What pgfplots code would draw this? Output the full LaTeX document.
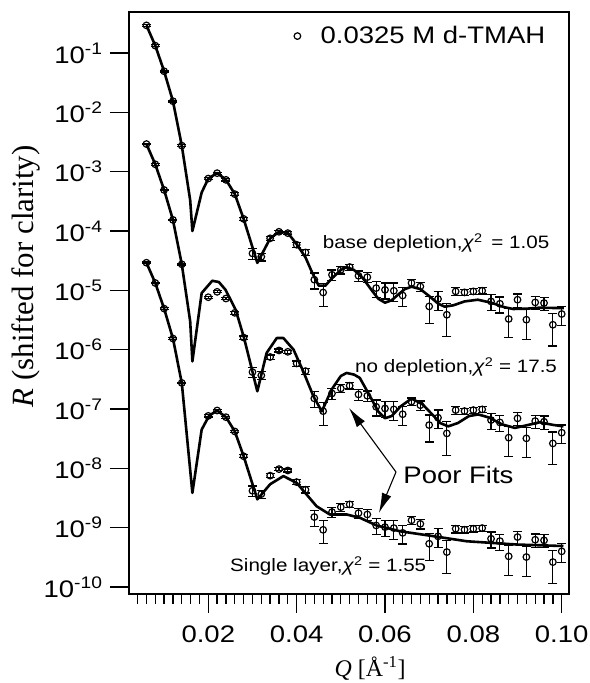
\documentclass[border=0pt]{standalone}
\usepackage{pgfplots}
\pgfplotsset{compat=1.18}
\usepackage{pgfplotstable}
\usepackage{fontspec}
\setmainfont{Liberation Sans}[FakeStretch=1.15]
\newfontfamily\tnr{Liberation Serif}
\usetikzlibrary{arrows.meta}

% data: base depletion (as measured)
\pgfplotstableread{
q r e
0.006 0.292 0.03
0.008 0.133 0.03
0.010 0.0492 0.03
0.012 0.0154 0.03
0.014 0.00275 0.03
0.020 7.66e-4 0.04
0.022 9.44e-4 0.04
0.024 7.28e-4 0.04
0.026 4.18e-4 0.05
0.028 1.60e-4 0.06
0.030 4.19e-5 0.2
0.032 3.68e-5 0.15
0.034 7.53e-5 0.08
0.036 9.7e-5 0.06
0.038 9.2e-5 0.06
0.040 5.86e-5 0.1
0.042 4.35e-5 0.12
0.044 1.51e-5 0.3
0.046 9.2e-6 0.42
0.048 1.83e-5 0.2
0.050 2.22e-5 0.15
0.052 2.47e-5 0.12
0.054 1.76e-5 0.2
0.056 1.67e-5 0.2
0.058 1.09e-5 0.3
0.060 1.02e-5 0.3
0.062 9.84e-6 0.35
0.064 8.17e-6 0.35
0.066 1.33e-5 0.15
0.068 1.16e-5 0.18
0.070 5.36e-6 0.48
0.072 7.14e-6 0.35
0.074 3.88e-6 0.57
0.076 9.59e-6 0.15
0.078 9.23e-6 0.12
0.080 9.59e-6 0.12
0.082 9.84e-6 0.12
0.084 6.51e-6 0.3
0.086 5.94e-6 0.3
0.088 3.29e-6 0.52
0.090 6.95e-6 0.25
0.092 3.2e-6 0.53
0.094 6.26e-6 0.25
0.096 6.11e-6 0.25
0.098 2.63e-6 0.56
0.100 3.99e-6 0.35
}\topdata

\pgfplotstableread{
q r e
0.006 0.00292 0.03
0.008 0.00133 0.03
0.010 4.92e-4 0.03
0.012 1.54e-4 0.03
0.014 2.75e-5 0.03
0.020 7.66e-6 0.04
0.022 9.44e-6 0.04
0.024 7.28e-6 0.04
0.026 4.18e-6 0.05
0.028 1.60e-6 0.06
0.030 4.19e-7 0.2
0.032 3.68e-7 0.15
0.034 7.53e-7 0.08
0.036 9.7e-7 0.06
0.038 9.2e-7 0.06
0.040 5.86e-7 0.1
0.042 4.35e-7 0.12
0.044 1.51e-7 0.3
0.046 9.2e-8 0.42
0.048 1.83e-7 0.2
0.050 2.22e-7 0.15
0.052 2.47e-7 0.12
0.054 1.76e-7 0.2
0.056 1.67e-7 0.2
0.058 1.09e-7 0.3
0.060 1.02e-7 0.3
0.062 9.84e-8 0.35
0.064 8.17e-8 0.35
0.066 1.33e-7 0.15
0.068 1.16e-7 0.18
0.070 5.36e-8 0.48
0.072 7.14e-8 0.35
0.074 3.88e-8 0.57
0.076 9.59e-8 0.15
0.078 9.23e-8 0.12
0.080 9.59e-8 0.12
0.082 9.84e-8 0.12
0.084 6.51e-8 0.3
0.086 5.94e-8 0.3
0.088 3.29e-8 0.52
0.090 6.95e-8 0.25
0.092 3.2e-8 0.53
0.094 6.26e-8 0.25
0.096 6.11e-8 0.25
0.098 2.63e-8 0.56
0.100 3.99e-8 0.35
}\middata

\pgfplotstableread{
q r e
0.006 2.92e-5 0.03
0.008 1.33e-5 0.03
0.010 4.92e-6 0.03
0.012 1.54e-6 0.03
0.014 2.75e-7 0.03
0.020 7.66e-8 0.04
0.022 9.44e-8 0.04
0.024 7.28e-8 0.04
0.026 4.18e-8 0.05
0.028 1.60e-8 0.06
0.030 4.19e-9 0.2
0.032 3.68e-9 0.15
0.034 7.53e-9 0.08
0.036 9.7e-9 0.06
0.038 9.2e-9 0.06
0.040 5.86e-9 0.1
0.042 4.35e-9 0.12
0.044 1.51e-9 0.3
0.046 9.2e-10 0.42
0.048 1.83e-9 0.2
0.050 2.22e-9 0.15
0.052 2.47e-9 0.12
0.054 1.76e-9 0.2
0.056 1.67e-9 0.2
0.058 1.09e-9 0.3
0.060 1.02e-9 0.3
0.062 9.84e-10 0.35
0.064 8.17e-10 0.35
0.066 1.33e-9 0.15
0.068 1.16e-9 0.18
0.070 5.36e-10 0.48
0.072 7.14e-10 0.35
0.074 3.88e-10 0.57
0.076 9.59e-10 0.15
0.078 9.23e-10 0.12
0.080 9.59e-10 0.12
0.082 9.84e-10 0.12
0.084 6.51e-10 0.3
0.086 5.94e-10 0.3
0.088 3.29e-10 0.52
0.090 6.95e-10 0.25
0.092 3.2e-10 0.53
0.094 6.26e-10 0.25
0.096 6.11e-10 0.25
0.098 2.63e-10 0.56
0.100 3.99e-10 0.35
}\botdata

% fits
\pgfplotstableread{
q r
0.006 0.292
0.008 0.133
0.010 0.0492
0.012 0.0154
0.014 0.00275
0.0159 3.3e-4
0.0164 1.0e-4
0.0185 4.45e-4
0.020 7.66e-4
0.022 9.5e-4
0.024 7.3e-4
0.026 4.2e-4
0.028 1.6e-4
0.0311 2.9e-5
0.034 7.5e-5
0.036 9.7e-5
0.038 9.3e-5
0.040 6.0e-5
0.042 3.6e-5
0.0435 2.0e-5
0.045 1.2e-5
0.0465 1.2e-5
0.048 1.6e-5
0.050 2.2e-5
0.0513 2.47e-5
0.053 2.2e-5
0.055 1.6e-5
0.057 1.0e-5
0.0585 7.2e-6
0.060 6.2e-6
0.0615 6.8e-6
0.063 8.5e-6
0.0645 1.05e-5
0.066 1.15e-5
0.068 1.05e-5
0.070 8.0e-6
0.072 6.0e-6
0.0735 5.3e-6
0.0755 5.6e-6
0.078 6.5e-6
0.081 6.95e-6
0.084 6.2e-6
0.087 5.2e-6
0.089 4.85e-6
0.092 4.9e-6
0.095 5.1e-6
0.1005 5.0e-6
}\topfit

\pgfplotstableread{
q r
0.006 2.92e-3
0.008 1.33e-3
0.010 4.92e-4
0.012 1.54e-4
0.014 2.75e-5
0.0159 3.0e-6
0.0164 6.35e-7
0.0185 9.0e-6
0.0209 1.45e-5
0.0224 1.38e-5
0.0239 1.02e-5
0.0262 4.7e-6
0.0281 1.57e-6
0.0311 1.99e-7
0.0332 8.8e-7
0.0355 1.57e-6
0.037 1.57e-6
0.0393 1.0e-6
0.0415 4.3e-7
0.0438 1.64e-7
0.0457 9.1e-8
0.0479 2.12e-7
0.0500 3.6e-7
0.0513 4.05e-7
0.0530 3.8e-7
0.0543 3.34e-7
0.0566 1.64e-7
0.0585 9.0e-8
0.0600 7.0e-8
0.0615 7.6e-8
0.0635 1.1e-7
0.066 1.5e-7
0.0685 1.2e-7
0.0709 7.8e-8
0.0725 5.8e-8
0.0743 5.1e-8
0.0765 5.8e-8
0.0790 7.6e-8
0.0811 8.1e-8
0.0835 7.2e-8
0.0865 5.5e-8
0.0894 4.8e-8
0.092 5.3e-8
0.095 5.97e-8
0.098 5.4e-8
0.1004 5.1e-8
}\midfit

\pgfplotstableread{
q r
0.006 2.92e-5
0.008 1.33e-5
0.010 4.92e-6
0.012 1.54e-6
0.014 2.75e-7
0.0164 3.86e-9
0.0185 4.5e-8
0.0202 7.74e-8
0.022 9.4e-8
0.024 7.3e-8
0.026 4.2e-8
0.028 1.6e-8
0.0311 3.0e-9
0.034 5.4e-9
0.037 7.4e-9
0.040 5.7e-9
0.0445 2.3e-9
0.0475 1.67e-9
0.0513 1.67e-9
0.0543 1.47e-9
0.0581 1.09e-9
0.0634 8.7e-10
0.0709 7.2e-10
0.0785 5.9e-10
0.0898 5.2e-10
0.1004 4.9e-10
}\botfit

\pgfplotsset{
  datastyle/.style={only marks, mark=o, mark size=3.3bp, black, line width=1.2bp,
    mark options={line width=1.2bp, fill=none},
    error bars/.cd, y dir=both, y explicit relative,
    error bar style={line width=1.2bp, black},
    error mark=-,
    error mark options={rotate=90, mark size=4.5bp, line width=1.2bp, black}},
  fitstyle/.style={black, line width=2.6bp, line join=round, no marks},
}

\begin{document}
\begin{tikzpicture}
\begin{axis}[
  name=ax,
  scale only axis,
  width=440bp, height=582bp,
  ymode=log,
  xmin=0.00205, xmax=0.10165,
  ymin=7.62e-11, ymax=0.491,
  axis line style={line width=1.5bp},
  tick style={line width=1.3bp, black},
  tick align=outside,
  xtick pos=bottom, ytick pos=left,
  major tick length=19bp, minor tick length=10bp,
  xtick={0.02,0.04,0.06,0.08,0.10},
  xticklabels={0.02,0.04,0.06,0.08,0.10},
  minor xtick={0.004,0.006,0.008,0.010,0.012,0.014,0.016,0.018,0.022,0.024,0.026,0.028,0.030,0.032,0.034,0.036,0.038,0.042,0.044,0.046,0.048,0.050,0.052,0.054,0.056,0.058,0.062,0.064,0.066,0.068,0.070,0.072,0.074,0.076,0.078,0.082,0.084,0.086,0.088,0.090,0.092,0.094,0.096,0.098},
  ytick={1e-10,1e-9,1e-8,1e-7,1e-6,1e-5,1e-4,1e-3,1e-2,1e-1},
  yticklabels={10\textsuperscript{-10},10\textsuperscript{-9},10\textsuperscript{-8},10\textsuperscript{-7},10\textsuperscript{-6},10\textsuperscript{-5},10\textsuperscript{-4},10\textsuperscript{-3},10\textsuperscript{-2},10\textsuperscript{-1}},
  yminorticks=false,
  tick label style={font=\fontsize{24}{28}\selectfont},
  xticklabel style={yshift=-9bp},
  yticklabel style={xshift=-4bp},
  xlabel={{\tnr\fontsize{24}{28}\selectfont\textit{Q} [Å\textsuperscript{-1}]}},
  xlabel style={at={(axis description cs:0.548,0)}, anchor=north, inner sep=0pt, yshift=-62bp},
  ylabel={{\tnr\fontsize{31}{35}\selectfont\textit{R} (shifted for clarity)}},
  ylabel style={at={(axis description cs:-0.2023,0.546)}, anchor=south, inner sep=0pt},
  legend style={draw=none, fill=none, at={(axis description cs:0.958,0.982)}, anchor=north east,
    font=\fontsize{24}{28}\selectfont},
  legend cell align=left,
]
\addlegendimage{only marks, mark=o, mark size=3.3bp, line width=1.2bp, black}
\addlegendentry{\hspace{18bp}0.0325 M d-TMAH}

\addplot[fitstyle] table[x=q,y=r] {\topfit};
\addplot[fitstyle] table[x=q,y=r] {\midfit};
\addplot[fitstyle] table[x=q,y=r] {\botfit};

\addplot[datastyle] table[x=q,y=r,y error=e] {\topdata};
\addplot[datastyle] table[x=q,y=r,y error=e] {\middata};
\addplot[datastyle] table[x=q,y=r,y error=e] {\botdata};

\node[anchor=west, inner sep=0pt, font=\fontsize{18}{21}\selectfont] at (axis description cs:0.44,0.603) {base depletion,\textit{χ}\textsuperscript{2}\, = 1.05};
\node[anchor=west, inner sep=0pt, font=\fontsize{18}{21}\selectfont] at (axis description cs:0.5136,0.3905) {no depletion,\textit{χ}\textsuperscript{2} = 17.5};
\node[anchor=west, inner sep=0pt, font=\fontsize{18}{21}\selectfont] at (axis description cs:0.2295,0.048) {Single layer,\textit{χ}\textsuperscript{2} = 1.55};
\node[anchor=west, inner sep=0pt, font=\fontsize{24}{28}\selectfont] at (axis description cs:0.6234,0.2045) {Poor Fits};

\draw[line width=1.1bp, -{Latex[length=20bp,width=10bp]}] (axis description cs:0.6068,0.2096) -- (axis description cs:0.5,0.3196);
\draw[line width=1.1bp, -{Latex[length=20bp,width=10bp]}] (axis description cs:0.6068,0.2096) -- (axis description cs:0.568,0.1392);
\end{axis}
\pgfresetboundingbox
\path[use as bounding box] ([xshift=-129bp,yshift=-89bp]ax.south west) rectangle ([xshift=21bp,yshift=12bp]ax.north east);
\end{tikzpicture}
\end{document}
